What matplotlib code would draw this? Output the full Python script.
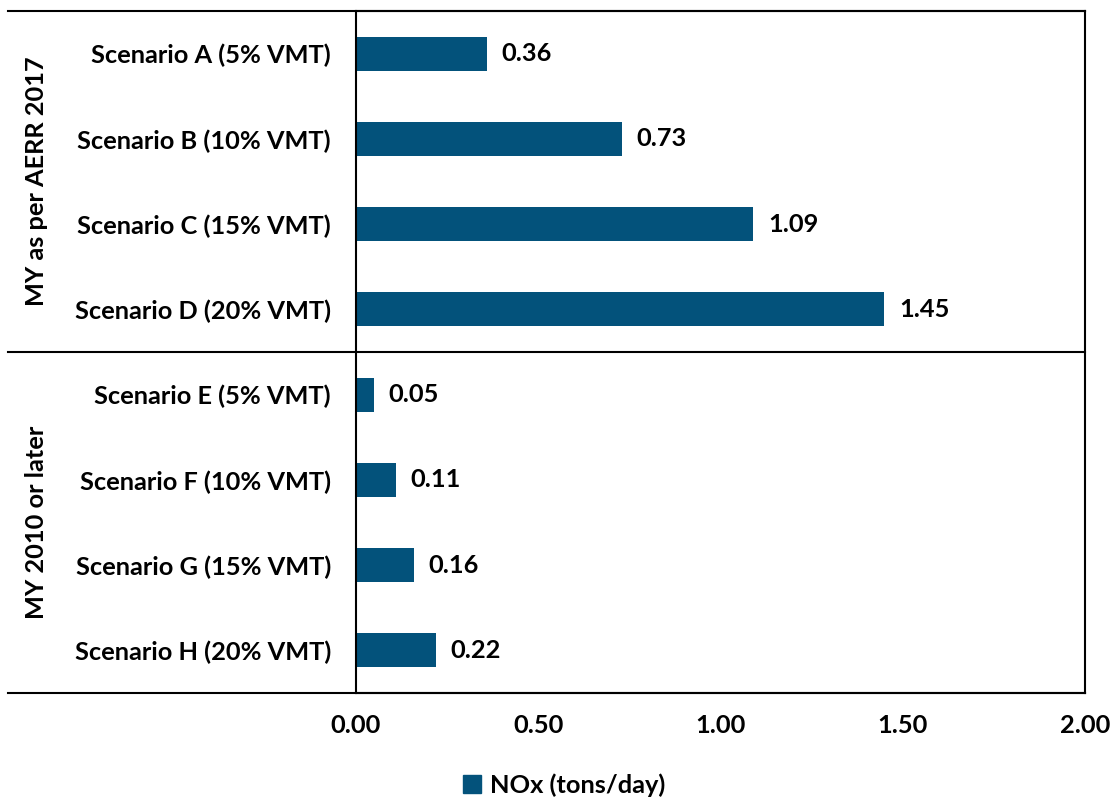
import matplotlib
matplotlib.use("Agg")
import matplotlib.pyplot as plt
from matplotlib.lines import Line2D
from matplotlib.patches import Patch
import numpy as np

plt.rcParams["font.family"] = ["Lato", "DejaVu Sans"]
plt.rcParams["font.weight"] = "bold"

scenarios = [
    "Scenario A (5% VMT)", "Scenario B (10% VMT)", "Scenario C (15% VMT)", "Scenario D (20% VMT)",
    "Scenario E (5% VMT)", "Scenario F (10% VMT)", "Scenario G (15% VMT)", "Scenario H (20% VMT)",
]
nox = [0.36, 0.73, 1.09, 1.45, 0.05, 0.11, 0.16, 0.22]
groups = ["MY as per AERR 2017", "MY 2010 or later"]
xticks = [0.0, 0.5, 1.0, 1.5, 2.0]
color = "#03527b"
fs = 18.3

fig = plt.figure(figsize=(11.12, 7.99), dpi=100)
ax = fig.add_axes([0.3201, 0.1327, 0.6556, 0.8535])

y = np.arange(len(scenarios))
ax.barh(y, nox, height=0.4, color=color)
for i, v in enumerate(nox):
    ax.text(v + 0.04, i, f"{v:.2f}", va="center", ha="left", fontsize=fs, fontweight="bold")

ax.set_ylim(len(scenarios) - 0.5, -0.5)
ax.set_xlim(0, 2)
ax.set_yticks(y)
ax.set_yticklabels(scenarios, fontsize=fs, fontweight="bold")
ax.set_xticks(xticks)
ax.set_xticklabels([f"{t:.2f}" for t in xticks], fontsize=fs, fontweight="bold")
ax.tick_params(axis="both", length=0)
ax.tick_params(axis="y", pad=18)
ax.tick_params(axis="x", pad=15)

for s in ax.spines.values():
    s.set_linewidth(1.5)
    s.set_color("black")

# group separators extending to the left edge
trans = ax.get_yaxis_transform()
x_left = (8 / 1112 - 0.3201) / 0.6556
for yy in [-0.5, 3.5, 7.5]:
    ax.add_line(Line2D([x_left, 1], [yy, yy], transform=trans, color="black",
                       lw=1.5, clip_on=False))

gx = (37 / 1112 - 0.3201) / 0.6556
ax.text(gx, 1.5, groups[0], transform=trans, rotation=90, ha="center", va="center",
        fontsize=fs, fontweight="bold")
ax.text(gx, 5.5, groups[1], transform=trans, rotation=90, ha="center", va="center",
        fontsize=fs, fontweight="bold")

fig.legend(handles=[Patch(color=color, label="NOx (tons/day)")], loc="center",
           bbox_to_anchor=(564 / 1112, 1 - 785 / 799), frameon=False,
           fontsize=fs, handlelength=0.7, handleheight=0.7, handletextpad=0.35,
           borderpad=0.1)

fig.savefig("out.png", dpi=100)
